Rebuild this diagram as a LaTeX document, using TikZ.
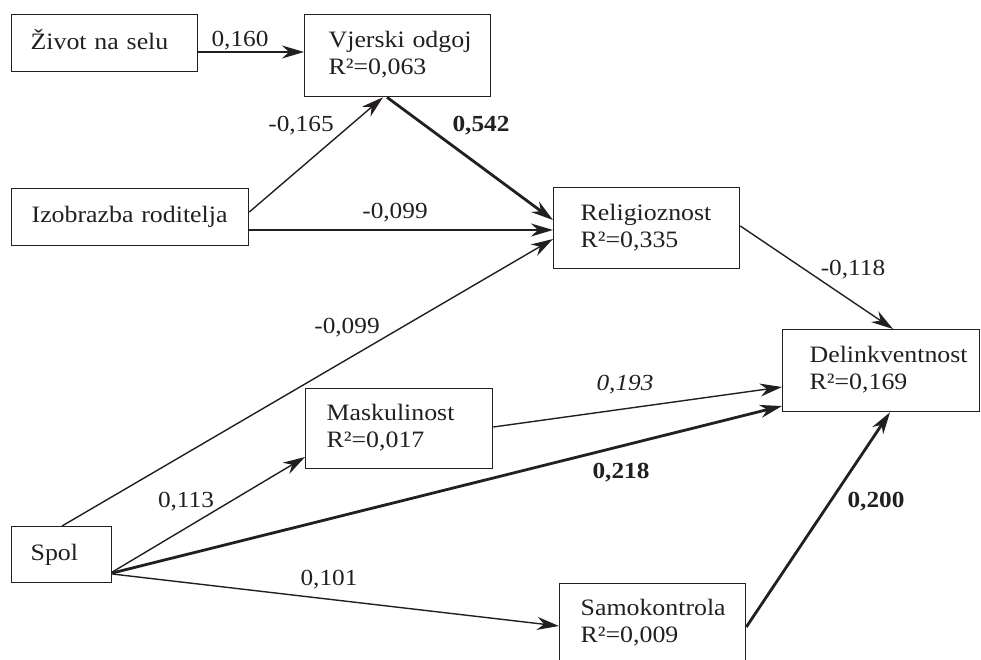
\documentclass[tikz,border=0pt]{standalone}
\usepackage{fontspec}
\setmainfont{Liberation Serif}[FakeStretch=1.1]
\usetikzlibrary{arrows.meta}
\definecolor{ink}{RGB}{35,31,32}
\newcommand{\bt}[2]{\hspace*{#1pt}\begin{tabular}{@{}l@{}}#2\end{tabular}}
\begin{document}
\begin{tikzpicture}[x=1pt,y=-1pt,
  every node/.style={font=\fontsize{23.5}{27}\selectfont, text=ink},
  box/.style 2 args={draw=ink, line width=1.3pt, anchor=north west, inner xsep=0pt, inner ysep=0pt, text width=#1pt, minimum height=#2pt, align=left},
  lbl/.style={inner sep=0pt, font=\fontsize{23}{27}\selectfont},
  con/.style={draw=ink, line width=1.4pt, -{Stealth[length=22pt,width=13pt,inset=7pt]}},
  strong/.style={con, line width=2.8pt},
  ]
\useasboundingbox (0,0) rectangle (981,660);

% boxes
\node[box={186}{57}] (zivot) at (11,14) {\bt{19}{Život na selu}};
\node[box={186}{82}] (vjerski) at (304,14) {\bt{24}{Vjerski odgoj\\R²=0,063}};
\node[box={237}{57}] (izob) at (11,188) {\bt{20}{Izobrazba roditelja}};
\node[box={186}{81}] (relig) at (553,187) {\bt{27}{Religioznost\\R²=0,335}};
\node[box={197}{82}] (delink) at (782,329) {\bt{27}{Delinkventnost\\R²=0,169}};
\node[box={187}{80}] (mask) at (305,388) {\bt{21}{Maskulinost\\R²=0,017}};
\node[box={100}{56}] (spol) at (11,526) {\bt{19}{Spol}};
\node[box={186}{80}] (samo) at (559,583) {\bt{21}{Samokontrola\\R²=0,009}};

% connectors
\draw[con] ([shift={(0,38)}]zivot.north east) -- ([shift={(0,38)}]vjerski.north west);
\draw[con] ([shift={(0,24)}]izob.north east) -- ([shift={(79,0)}]vjerski.south west);
\draw[strong] ([shift={(83,0)}]vjerski.south west) -- ([shift={(0,33)}]relig.north west);
\draw[con] ([shift={(0,42)}]izob.north east) -- ([shift={(0,43)}]relig.north west);
\draw[con] ([shift={(51,0)}]spol.north west) -- ([shift={(0,52)}]relig.north west);
\draw[con] ([shift={(0,46)}]spol.north east) -- ([shift={(0,69)}]mask.north west);
\draw[con] ([shift={(0,39)}]mask.north east) -- ([shift={(0,58)}]delink.north west);
\draw[strong] ([shift={(0,47)}]spol.north east) -- ([shift={(0,77)}]delink.north west);
\draw[con] ([shift={(0,48)}]spol.north east) -- ([shift={(0,43)}]samo.north west);
\draw[strong] ([shift={(0,44)}]samo.north east) -- ([shift={(108,0)}]delink.south west);
\draw[con] ([shift={(0,39)}]relig.north east) -- ([shift={(111,0)}]delink.north west);

% labels
\node[lbl] (l160) at (240,41) {0,160};
\node[lbl] (l165) at (301,126) {-0,165};
\node[lbl] (l542) at (481,126) {\bfseries 0,542};
\node[lbl] (l099a) at (395,213) {-0,099};
\node[lbl] (l099b) at (347,328) {-0,099};
\node[lbl] (l113) at (186,502) {0,113};
\node[lbl] (l193) at (625,385) {\itshape 0,193};
\node[lbl] (l218) at (621,473) {\bfseries 0,218};
\node[lbl] (l101) at (329,580) {0,101};
\node[lbl] (l200) at (876,502) {\bfseries 0,200};
\node[lbl] (l118) at (853,270) {-0,118};
\end{tikzpicture}
\end{document}
